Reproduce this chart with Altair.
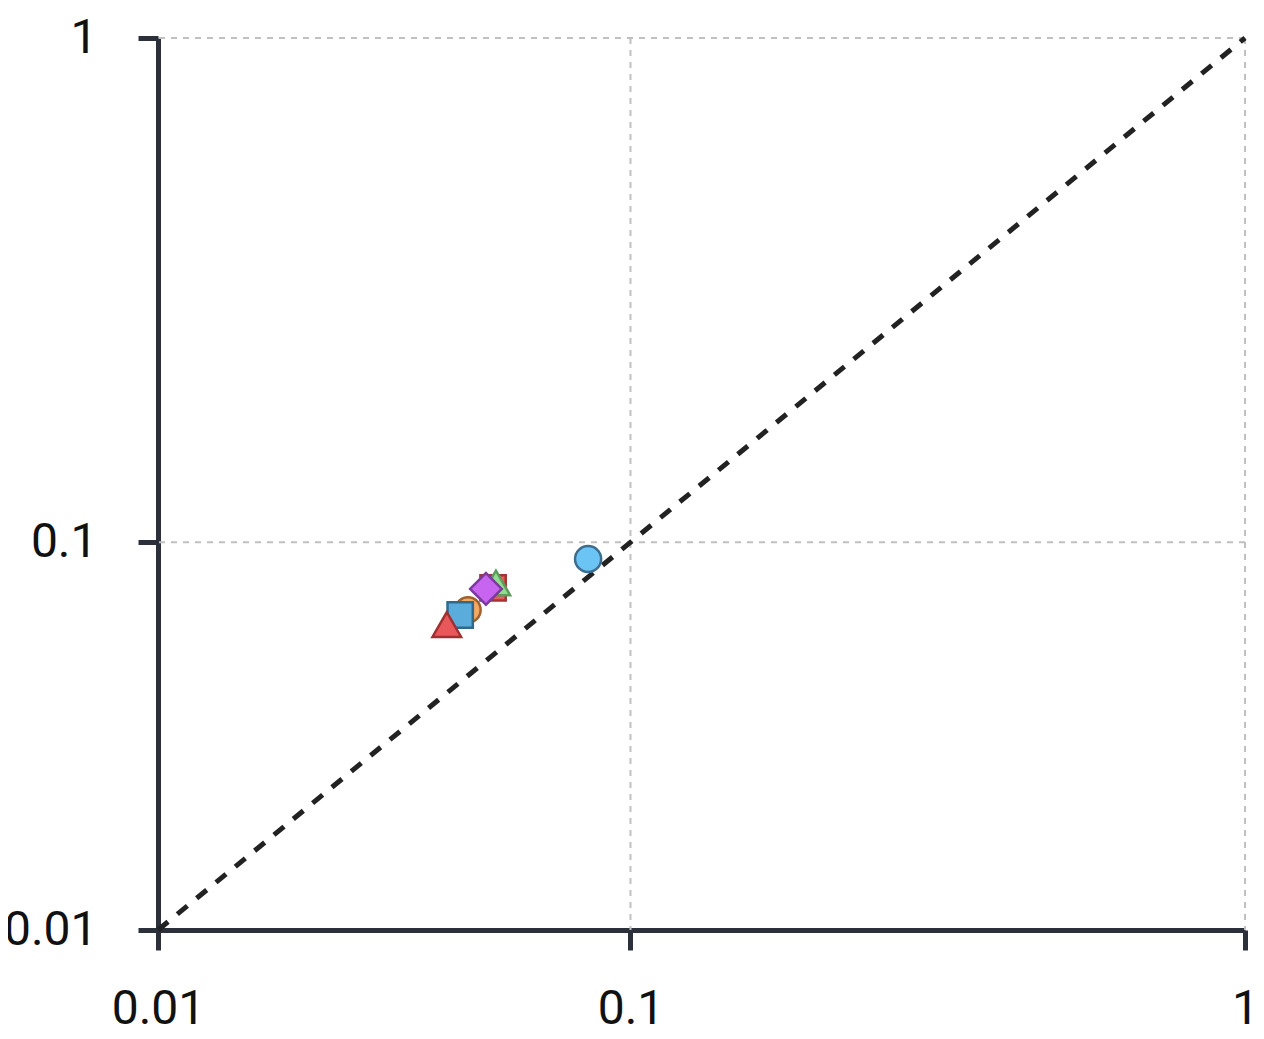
import altair as alt
import pandas as pd

# ---- data ----
series = ["S1", "S2", "S3", "S4", "S5", "S6", "S7"]
x_vals = [0.0844, 0.0570, 0.0577, 0.0553, 0.0512, 0.0495, 0.0467]
y_vals = [0.0922, 0.0800, 0.0820, 0.0796, 0.0717, 0.0699, 0.0666]

tick_values = [0.01, 0.1, 1]
grid_values = [0.1, 1]
diag = [0.01, 1]

# ---- styles ----
shapes = ["circle", "square", "triangle-up", "diamond", "circle", "square", "triangle-up"]
fills = ["#6cc4f4", "#ee5a5a", "#90dd90", "#c865f0", "#f4a862", "#5aaddb", "#e8585a"]
strokes = ["#3d6e8f", "#a33434", "#5c9c5c", "#7b3a9c", "#9e6131", "#2f6a8c", "#a0302f"]
sizes = [680, 640, 800, 1000, 640, 640, 820]

pts = pd.DataFrame({"series": series, "x": x_vals, "y": y_vals})
diag_df = pd.DataFrame({"x": diag, "y": diag})
vgrid = pd.DataFrame({"v": grid_values})

axis_common = dict(
    values=tick_values,
    format="~g",
    title=None,
    grid=False,
    domainColor="#2b303b",
    domainWidth=5,
    tickColor="#2b303b",
    tickWidth=5,
    tickSize=20,
    labelFont="Roboto",
    labelFontSize=48,
    labelColor="#111111",
    labelOverlap=False,
)

xscale = alt.Scale(type="symlog", constant=0.01, domain=[0.01, 1], nice=False)
yscale = alt.Scale(type="symlog", constant=0.01, domain=[0.01, 1], nice=False)

xenc = alt.X("x:Q", scale=xscale, axis=alt.Axis(labelPadding=35, labelFlush=False, **axis_common))
yenc = alt.Y("y:Q", scale=yscale, axis=alt.Axis(labelPadding=41, **axis_common))

vrules = alt.Chart(vgrid).mark_rule(color="#c0c0c0", strokeWidth=2, strokeDash=[6, 6]).encode(
    x=alt.X("v:Q", scale=xscale)
)
hrules = alt.Chart(vgrid).mark_rule(color="#c0c0c0", strokeWidth=2, strokeDash=[6, 6]).encode(
    y=alt.Y("v:Q", scale=yscale)
)

line = alt.Chart(diag_df).mark_line(color="#222222", strokeWidth=5, strokeDash=[13, 12]).encode(
    x=xenc, y=yenc
)

points = alt.Chart(pts).mark_point(filled=True, opacity=1, strokeWidth=2.5).encode(
    x=alt.X("x:Q", scale=xscale),
    y=alt.Y("y:Q", scale=yscale),
    shape=alt.Shape("series:N", scale=alt.Scale(domain=series, range=shapes), legend=None),
    fill=alt.Fill("series:N", scale=alt.Scale(domain=series, range=fills), legend=None),
    stroke=alt.Stroke("series:N", scale=alt.Scale(domain=series, range=strokes), legend=None),
    size=alt.Size("series:N", scale=alt.Scale(type="ordinal", domain=series, range=sizes), legend=None),
)

chart = alt.layer(vrules, hrules, line, points).properties(
    width=1087,
    height=892,
    autosize=alt.AutoSizeParams(type="none"),
    padding={"left": 150, "top": 30, "right": 10, "bottom": 101},
).configure_view(stroke=None)

chart.save("out.html", embed_options={"renderer": "svg", "actions": False})
